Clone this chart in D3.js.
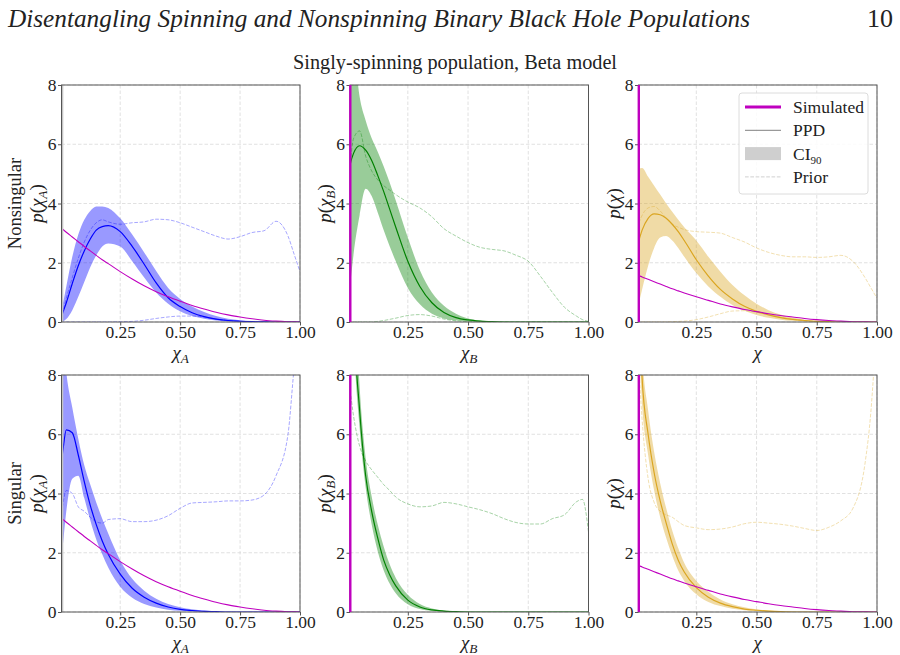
<!DOCTYPE html>
<html>
<head>
<meta charset="utf-8">
<script src="https://cdn.jsdelivr.net/npm/d3@7"></script>
<style>
  body { margin: 0; background: #fff; }
  svg text { font-family: "Liberation Serif", "Times New Roman", "DejaVu Serif", serif; fill: #222; }
</style>
</head>
<body>
<div id="chart"></div>
<script>
const FONT = '"Liberation Serif", "Times New Roman", "DejaVu Serif", serif';

// x grid shared by every curve
const xs = [0, 0.01, 0.025, 0.05, 0.075, 0.1, 0.125, 0.15, 0.175, 0.2, 0.25, 0.3, 0.35, 0.4, 0.45, 0.5,
            0.55, 0.6, 0.65, 0.7, 0.75, 0.8, 0.85, 0.9, 0.95, 0.975, 1];

const xTicks = [0.25, 0.5, 0.75, 1.0];
const yTicks = [0, 2, 4, 6, 8];
const rowNames = ["Nonsingular", "Singular"];
const varSubs = ["A", "B", ""];

// simulated population
const simA   = [3.2, 3.13, 3.03, 2.87, 2.71, 2.55, 2.4, 2.25, 2.1, 1.97, 1.7, 1.45, 1.22, 1.02, 0.85, 0.7, 0.56, 0.44, 0.33, 0.24, 0.17, 0.11, 0.06, 0.03, 0.01, 0.003, 0];
const simChi = [1.6, 1.57, 1.52, 1.44, 1.36, 1.28, 1.2, 1.12, 1.05, 0.98, 0.85, 0.73, 0.61, 0.51, 0.42, 0.35, 0.28, 0.22, 0.17, 0.12, 0.08, 0.05, 0.03, 0.01, 0.005, 0.001, 0];

// nonsingular, chi_A
const nsA_med = [0.05, 0.3, 0.65, 1.3, 1.9, 2.4, 2.8, 3.1, 3.22, 3.25, 3.05, 2.55, 1.95, 1.32, 0.82, 0.52, 0.31, 0.18, 0.1, 0.05, 0.025, 0.01, 0.003, 0, 0, 0, 0];
const nsA_hi  = [0.3, 0.6, 1.2, 2.2, 2.95, 3.45, 3.75, 3.9, 3.9, 3.85, 3.5, 2.95, 2.35, 1.72, 1.15, 0.78, 0.52, 0.34, 0.2, 0.11, 0.06, 0.03, 0.01, 0, 0, 0, 0];
const nsA_lo  = [0, 0.02, 0.1, 0.4, 0.85, 1.35, 1.85, 2.25, 2.55, 2.65, 2.55, 2.05, 1.5, 1.0, 0.62, 0.36, 0.2, 0.11, 0.05, 0.02, 0.01, 0, 0, 0, 0, 0, 0];
const nsA_prHi = [0.1, 0.35, 0.8, 1.5, 2.15, 2.7, 3.1, 3.35, 3.45, 3.38, 3.3, 3.35, 3.38, 3.47, 3.45, 3.35, 3.2, 3.05, 2.9, 2.8, 2.88, 3.02, 3.08, 3.4, 2.9, 2.3, 1.7];
const nsA_prLo = [0, 0, 0, 0, 0, 0, 0, 0, 0, 0, 0.01, 0.02, 0.06, 0.12, 0.17, 0.2, 0.2, 0.17, 0.1, 0.05, 0.02, 0.01, 0, 0, 0, 0, 0];

// nonsingular, chi_B
const nsB_med = [4.9, 5.3, 5.7, 5.95, 5.8, 5.45, 4.95, 4.4, 3.8, 3.2, 2.05, 1.2, 0.65, 0.32, 0.15, 0.07, 0.03, 0.01, 0, 0, 0, 0, 0, 0, 0, 0, 0];
const nsB_hi  = [11, 10, 9.3, 7.6, 6.8, 6.2, 5.75, 5.25, 4.7, 4.1, 2.85, 1.75, 1.0, 0.55, 0.28, 0.12, 0.05, 0.02, 0.01, 0, 0, 0, 0, 0, 0, 0, 0];
const nsB_lo  = [0.5, 1.2, 2.3, 3.6, 4.5, 4.25, 3.7, 3.1, 2.55, 2.05, 1.15, 0.6, 0.28, 0.12, 0.05, 0.02, 0.01, 0, 0, 0, 0, 0, 0, 0, 0, 0, 0];
const nsB_prHi = [4.5, 5.3, 6.2, 6.45, 5.6, 5.1, 4.8, 4.6, 4.45, 4.3, 4.05, 3.85, 3.55, 3.15, 2.9, 2.68, 2.52, 2.45, 2.4, 2.25, 2.05, 1.55, 1.0, 0.5, 0.2, 0.08, 0.02];
const nsB_prLo = [0, 0, 0, 0, 0, 0, 0.02, 0.05, 0.09, 0.13, 0.22, 0.25, 0.2, 0.1, 0.04, 0.01, 0, 0, 0, 0, 0, 0, 0, 0, 0, 0, 0];

// nonsingular, chi
const nsC_med = [2.4, 2.7, 3.1, 3.5, 3.65, 3.62, 3.5, 3.3, 3.05, 2.75, 2.1, 1.55, 1.1, 0.78, 0.53, 0.36, 0.24, 0.15, 0.09, 0.05, 0.02, 0.01, 0, 0, 0, 0, 0];
const nsC_hi  = [5.0, 5.15, 5.2, 4.9, 4.6, 4.3, 4.0, 3.72, 3.45, 3.2, 2.75, 2.2, 1.7, 1.25, 0.9, 0.62, 0.4, 0.25, 0.15, 0.08, 0.04, 0.02, 0.01, 0, 0, 0, 0];
const nsC_lo  = [0.3, 0.6, 1.1, 1.9, 2.5, 2.85, 2.9, 2.75, 2.5, 2.2, 1.65, 1.2, 0.85, 0.57, 0.38, 0.24, 0.14, 0.08, 0.04, 0.02, 0.01, 0, 0, 0, 0, 0, 0];
const nsC_prHi = [3.0, 3.3, 3.6, 3.85, 3.9, 3.75, 3.5, 3.3, 3.2, 3.12, 3.05, 3.03, 3.0, 2.85, 2.7, 2.5, 2.35, 2.25, 2.2, 2.2, 2.18, 2.2, 2.25, 2.05, 1.5, 1.15, 0.8];
const nsC_prLo = [0, 0, 0, 0, 0, 0, 0, 0.01, 0.02, 0.03, 0.08, 0.17, 0.28, 0.37, 0.38, 0.33, 0.25, 0.16, 0.09, 0.04, 0.02, 0, 0, 0, 0, 0, 0];

// singular, chi_A
const sA_med = [4.8, 5.4, 6.15, 6.05, 5.3, 4.4, 3.6, 2.95, 2.4, 1.95, 1.28, 0.8, 0.5, 0.3, 0.17, 0.09, 0.05, 0.02, 0.01, 0, 0, 0, 0, 0, 0, 0, 0];
const sA_hi  = [11, 9.5, 8.1, 6.9, 5.85, 4.95, 4.3, 3.7, 3.15, 2.65, 1.75, 1.12, 0.72, 0.45, 0.27, 0.16, 0.09, 0.05, 0.02, 0.01, 0, 0, 0, 0, 0, 0, 0];
const sA_lo  = [1.5, 2.2, 3.4, 4.5, 4.6, 3.85, 3.1, 2.45, 1.95, 1.5, 0.85, 0.48, 0.27, 0.15, 0.08, 0.04, 0.02, 0.01, 0, 0, 0, 0, 0, 0, 0, 0, 0];
const sA_prHi = [3.0, 3.6, 4.1, 4.0, 3.55, 3.4, 3.2, 3.05, 3.0, 3.12, 3.15, 3.05, 3.05, 3.1, 3.25, 3.5, 3.68, 3.7, 3.72, 3.75, 3.75, 3.78, 3.95, 4.6, 6.0, 8.2, 10];

// singular, chi_B
const sB_med = [20, 15.5, 10.3, 6.8, 4.6, 3.4, 2.5, 1.75, 1.25, 0.88, 0.4, 0.17, 0.07, 0.03, 0.01, 0, 0, 0, 0, 0, 0, 0, 0, 0, 0, 0, 0];
const sB_hi  = [22, 18, 12, 7.6, 5.2, 3.9, 2.95, 2.2, 1.6, 1.15, 0.58, 0.27, 0.12, 0.05, 0.02, 0.01, 0, 0, 0, 0, 0, 0, 0, 0, 0, 0, 0];
const sB_lo  = [18, 14, 9.5, 6.2, 4.2, 2.95, 2.05, 1.4, 0.95, 0.63, 0.26, 0.1, 0.04, 0.01, 0, 0, 0, 0, 0, 0, 0, 0, 0, 0, 0, 0, 0];
const sB_prHi = [8, 7.5, 6.6, 5.6, 5.1, 4.8, 4.55, 4.3, 4.1, 3.88, 3.65, 3.55, 3.58, 3.7, 3.65, 3.55, 3.45, 3.32, 3.15, 3.02, 2.97, 2.97, 3.15, 3.28, 3.72, 3.8, 2.7];

// singular, chi
const sC_med = [14, 11, 7.9, 6.0, 4.7, 3.75, 3.0, 2.3, 1.75, 1.35, 0.82, 0.5, 0.3, 0.18, 0.1, 0.06, 0.03, 0.01, 0, 0, 0, 0, 0, 0, 0, 0, 0];
const sC_hi  = [16, 12.5, 8.8, 6.8, 5.4, 4.35, 3.5, 2.75, 2.15, 1.65, 1.05, 0.68, 0.42, 0.26, 0.16, 0.09, 0.05, 0.02, 0.01, 0, 0, 0, 0, 0, 0, 0, 0];
const sC_lo  = [12, 9.5, 7.0, 5.3, 4.1, 3.2, 2.5, 1.9, 1.4, 1.05, 0.6, 0.34, 0.2, 0.11, 0.06, 0.03, 0.01, 0, 0, 0, 0, 0, 0, 0, 0, 0, 0];
const sC_prHi = [10, 8.5, 6.5, 4.5, 3.7, 3.4, 3.28, 3.2, 3.05, 2.92, 2.84, 2.78, 2.8, 2.87, 2.98, 3.03, 3.0, 2.96, 2.9, 2.82, 2.75, 2.86, 3.08, 3.5, 5.0, 6.8, 10];

const colors = ["#0000ff", "#008000", "#daa520"];
const magenta = "#bf00bf";

const panels = [
  { row: 0, col: 0, med: nsA_med, lo: nsA_lo, hi: nsA_hi, prHi: nsA_prHi, prLo: nsA_prLo, sim: simA, delta: false },
  { row: 0, col: 1, med: nsB_med, lo: nsB_lo, hi: nsB_hi, prHi: nsB_prHi, prLo: nsB_prLo, sim: null, delta: true },
  { row: 0, col: 2, med: nsC_med, lo: nsC_lo, hi: nsC_hi, prHi: nsC_prHi, prLo: nsC_prLo, sim: simChi, delta: true },
  { row: 1, col: 0, med: sA_med, lo: sA_lo, hi: sA_hi, prHi: sA_prHi, prLo: null, sim: simA, delta: false },
  { row: 1, col: 1, med: sB_med, lo: sB_lo, hi: sB_hi, prHi: sB_prHi, prLo: null, sim: null, delta: true },
  { row: 1, col: 2, med: sC_med, lo: sC_lo, hi: sC_hi, prHi: sC_prHi, prLo: null, sim: simChi, delta: true }
];

// layout
const width = 900, height = 655;
const colLeft = [61.5, 350, 638.5];
const rowTop = [85, 375];
const pw = 238.5, ph = 237;
const xMin = [0.005, 0.01, 0.01];

const svg = d3.select("#chart").append("svg")
  .attr("width", width)
  .attr("height", height)
  .attr("font-family", FONT);

const defs = svg.append("defs");

// headers
svg.append("text")
  .attr("x", 8).attr("y", 27)
  .attr("font-family", FONT)
  .attr("font-size", 26).attr("font-style", "italic")
  .attr("textLength", 742).attr("lengthAdjust", "spacingAndGlyphs")
  .text("Disentangling Spinning and Nonspinning Binary Black Hole Populations");
svg.append("text")
  .attr("x", 893).attr("y", 27).attr("text-anchor", "end")
  .attr("font-family", FONT)
  .attr("font-size", 26)
  .text("10");
svg.append("text")
  .attr("x", 455).attr("y", 69).attr("text-anchor", "middle")
  .attr("font-family", FONT)
  .attr("font-size", 20)
  .attr("textLength", 324).attr("lengthAdjust", "spacingAndGlyphs")
  .text("Singly-spinning population, Beta model");

// writes p(χ_sub) style math into a text element
function mathLabel(t, sub, withP) {
  if (withP) {
    t.append("tspan").attr("font-style", "italic").text("p");
    t.append("tspan").text("(");
  }
  t.append("tspan").attr("font-style", "italic").text("χ");
  if (sub) {
    t.append("tspan").attr("font-style", "italic").attr("font-size", "0.7em").attr("dy", 4).text(sub);
    if (withP) t.append("tspan").attr("dy", -4).text(")");
  } else if (withP) {
    t.append("tspan").text(")");
  }
}

panels.forEach((p, i) => {
  const left = colLeft[p.col], top = rowTop[p.row];
  const color = colors[p.col];

  const x = d3.scaleLinear().domain([xMin[p.col], 1]).range([left, left + pw]);
  const y = d3.scaleLinear().domain([0, 8]).range([top + ph, top]);

  const clipId = "clip" + i;
  defs.append("clipPath").attr("id", clipId)
    .append("rect").attr("x", left).attr("y", top).attr("width", pw).attr("height", ph);

  const g = svg.append("g");

  // grid
  g.selectAll(".gx").data(xTicks).join("line")
    .attr("x1", d => x(d)).attr("x2", d => x(d))
    .attr("y1", top).attr("y2", top + ph)
    .attr("stroke", "#d9d9d9").attr("stroke-width", 0.8).attr("stroke-dasharray", "3.5,2");
  g.selectAll(".gy").data(yTicks).join("line")
    .attr("x1", left).attr("x2", left + pw)
    .attr("y1", d => y(d)).attr("y2", d => y(d))
    .attr("stroke", "#d9d9d9").attr("stroke-width", 0.8).attr("stroke-dasharray", "3.5,2");

  const plot = g.append("g").attr("clip-path", `url(#${clipId})`);
  const line = arr => d3.line().curve(d3.curveMonotoneX)
    .x((d, k) => x(xs[k])).y(d => y(d))(arr);

  // prior bounds
  [p.prHi, p.prLo].filter(a => a).forEach(arr => {
    plot.append("path").attr("d", line(arr))
      .attr("fill", "none").attr("stroke", color).attr("stroke-opacity", 0.35)
      .attr("stroke-width", 1).attr("stroke-dasharray", "3.7,1.6");
  });

  // CI band
  const area = d3.area().curve(d3.curveMonotoneX)
    .x((d, k) => x(xs[k]))
    .y0((d, k) => y(p.lo[k]))
    .y1(d => y(d));
  plot.append("path").attr("d", area(p.hi))
    .attr("fill", color).attr("fill-opacity", 0.4);

  // median PPD
  plot.append("path").attr("d", line(p.med))
    .attr("fill", "none").attr("stroke", color).attr("stroke-width", 1.2);

  // simulated
  if (p.sim) {
    plot.append("path").attr("d", line(p.sim))
      .attr("fill", "none").attr("stroke", magenta).attr("stroke-width", 1.1);
  }

  // left-edge band in the first column
  if (p.col === 0) {
    g.append("line")
      .attr("x1", x(xMin[p.col]) + 0.8).attr("x2", x(xMin[p.col]) + 0.8)
      .attr("y1", y(0)).attr("y2", y(8))
      .attr("stroke", "#c4c4c4").attr("stroke-width", 2);
  }

  // axes
  const xAxis = d3.axisBottom(x).tickValues(xTicks).tickFormat(d3.format(".2f"))
    .tickSize(3.5).tickPadding(0.5);
  const yAxis = d3.axisLeft(y).tickValues(yTicks).tickFormat(d3.format("d"))
    .tickSize(3.5).tickPadding(1.5);

  const gx = g.append("g").attr("transform", `translate(0,${top + ph})`).call(xAxis);
  const gy = g.append("g").attr("transform", `translate(${left},0)`).call(yAxis);
  [gx, gy].forEach(a => {
    a.attr("font-family", FONT);
    a.select(".domain").remove();
    a.selectAll("line").attr("stroke", "#555");
    a.selectAll("text").attr("font-size", 17.5).attr("fill", "#222")
      .attr("font-family", FONT)
      .style("font-family", FONT);
  });

  // spines
  g.append("rect")
    .attr("x", left).attr("y", top).attr("width", pw).attr("height", ph)
    .attr("fill", "none").attr("stroke", "#555").attr("stroke-width", 1);

  // delta at zero for the nonspinning component
  if (p.delta) {
    g.append("line")
      .attr("x1", x(xMin[p.col]) + 0.3).attr("x2", x(xMin[p.col]) + 0.3)
      .attr("y1", y(0)).attr("y2", y(8))
      .attr("stroke", magenta).attr("stroke-width", 2.4);
  }

  // x label
  const xl = g.append("text")
    .attr("x", left + pw / 2).attr("y", top + ph + 36.5)
    .attr("font-family", FONT)
    .attr("text-anchor", "middle").attr("font-size", 19);
  mathLabel(xl, varSubs[p.col], false);

  // y label
  const yl = g.append("text")
    .attr("transform", `translate(${left - 19},${top + ph / 2}) rotate(-90)`)
    .attr("font-family", FONT)
    .attr("text-anchor", "middle").attr("font-size", 19);
  mathLabel(yl, varSubs[p.col], true);

  if (p.col === 0) {
    g.append("text")
      .attr("transform", `translate(${left - 41},${top + ph / 2}) rotate(-90)`)
      .attr("font-family", FONT)
      .attr("text-anchor", "middle").attr("font-size", 18.5)
      .text(rowNames[p.row]);
  }
});

// legend, in the top-right panel
const lg = svg.append("g").attr("transform", "translate(739,93)");
lg.append("rect").attr("width", 129).attr("height", 101).attr("rx", 3)
  .attr("fill", "#fff").attr("fill-opacity", 0.85)
  .attr("stroke", "#dcdcdc").attr("stroke-width", 1);

const legendItems = ["Simulated", "PPD", "CI", "Prior"];
legendItems.forEach((name, k) => {
  const cy = 14 + k * 23.3;
  if (k === 0) {
    lg.append("line").attr("x1", 6).attr("x2", 42).attr("y1", cy).attr("y2", cy)
      .attr("stroke", magenta).attr("stroke-width", 3);
  } else if (k === 1) {
    lg.append("line").attr("x1", 6).attr("x2", 42).attr("y1", cy).attr("y2", cy)
      .attr("stroke", "#808080").attr("stroke-width", 1);
  } else if (k === 2) {
    lg.append("rect").attr("x", 6).attr("y", cy - 6.5).attr("width", 36).attr("height", 13)
      .attr("fill", "#cfcfcf");
  } else {
    lg.append("line").attr("x1", 6).attr("x2", 42).attr("y1", cy).attr("y2", cy)
      .attr("stroke", "#d0d0d0").attr("stroke-width", 1).attr("stroke-dasharray", "3.7,1.6");
  }
  const t = lg.append("text").attr("x", 54).attr("y", cy + 6)
    .attr("font-family", FONT).attr("font-size", 17.5);
  t.append("tspan").text(name);
  if (k === 2) t.append("tspan").attr("font-size", 11).attr("dy", 4).text("90");
});
</script>
</body>
</html>
